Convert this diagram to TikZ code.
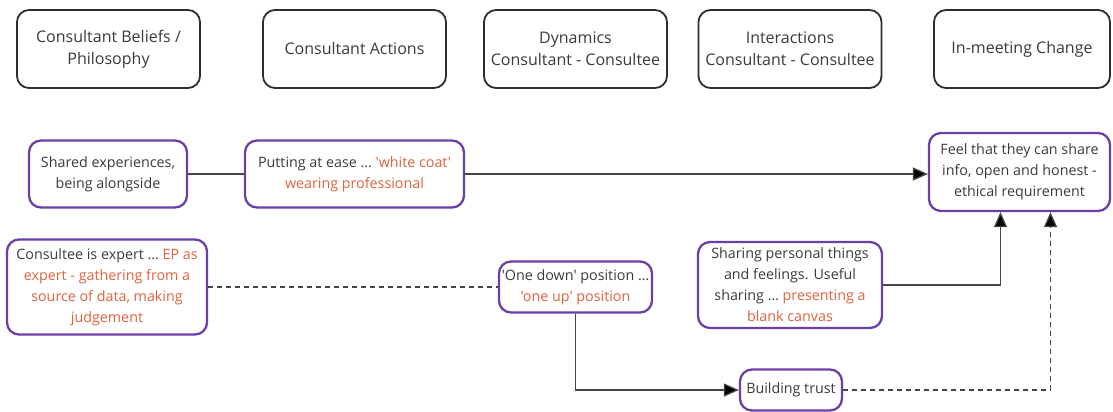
\documentclass[tikz,border=0pt]{standalone}
\usepackage{fontspec}
\newfontfamily\osans{Open Sans}
\usepackage{xcolor}
\definecolor{ink}{HTML}{3A3A3A}
\definecolor{edge}{HTML}{2E2E2E}
\definecolor{purp}{HTML}{6B3FA8}
\definecolor{hot}{HTML}{E0613C}
\definecolor{wire}{HTML}{454545}
\usepackage{tikz}
\usetikzlibrary{arrows.meta,positioning}
\newcommand{\hl}[1]{\textcolor{hot}{#1}}
\tikzset{
  hdr/.style={draw=edge,line width=1.8pt,rounded corners=12pt,minimum width=183pt,minimum height=78pt,
    align=center,text=ink,font=\osans\fontsize{16}{22}\selectfont},
  pbox/.style={draw=purp,line width=2.3pt,rounded corners=12pt,align=center,text=ink,
    inner sep=2pt,font=\osans\fontsize{14.3}{21}\selectfont},
  ln/.style={draw=wire,line width=1.3pt},
  arr/.style={-{Triangle[length=15pt,width=13pt,fill=black]},draw=wire,line width=1.3pt},
  darr/.style={arr,dash pattern=on 5pt off 4pt},
}
\begin{document}
\begin{tikzpicture}[x=1pt,y=-1pt]
\useasboundingbox (0,0) rectangle (1113,412);
% column headings
\node[hdr] (hbel) at (108.5,49) {Consultant Beliefs /\\Philosophy};
\node[hdr] (hact) at (354.5,49) {Consultant Actions};
\node[hdr] (hdyn) at (575.5,49) {Dynamics\\Consultant - Consultee};
\node[hdr] (hint) at (790,49) {Interactions\\Consultant - Consultee};
\node[hdr,minimum width=176pt] (hchg) at (1022,49) {In-meeting Change};
% themes
\node[pbox,minimum width=158pt,minimum height=67pt] (shared) at (108,174) {Shared experiences,\\being alongside};
\node[pbox,minimum width=219pt,minimum height=67pt] (ease) at (354.5,174) {Putting at ease … \hl{'white coat'}\\\hl{wearing professional}};
\node[pbox,minimum width=181pt,minimum height=78pt] (feel) at (1019.5,172) {Feel that they can share\\info, open and honest -\\ethical requirement};
\node[pbox,minimum width=200pt,minimum height=95pt] (expert) at (107,287) {Consultee is expert … \hl{EP as}\\\hl{expert - gathering from a}\\\hl{source of data, making}\\\hl{judgement}};
\node[pbox,minimum width=153pt,minimum height=51pt] (onedown) at (575.5,287) {'One down' position …\\\hl{'one up' position}};
\node[pbox,minimum width=184pt,minimum height=86pt] (sharing) at (790,285) {Sharing personal things\\and feelings. Useful\\sharing … \hl{presenting a}\\\hl{blank canvas}};
\node[pbox,minimum width=102pt,minimum height=41pt] (trust) at (791,390) {Building trust};
% links
\draw[ln] (shared) -- (ease);
\draw[arr] (ease.east) -- (ease.east -| feel.west);
\draw[ln,dash pattern=on 5pt off 4pt] (expert) -- (onedown);
\draw[arr] (sharing.east) -| ([xshift=-19pt]feel.south);
\draw[arr] (onedown.south) |- (trust.west);
\draw[darr] (trust.east) -| ([xshift=31pt]feel.south);
\end{tikzpicture}
\end{document}
